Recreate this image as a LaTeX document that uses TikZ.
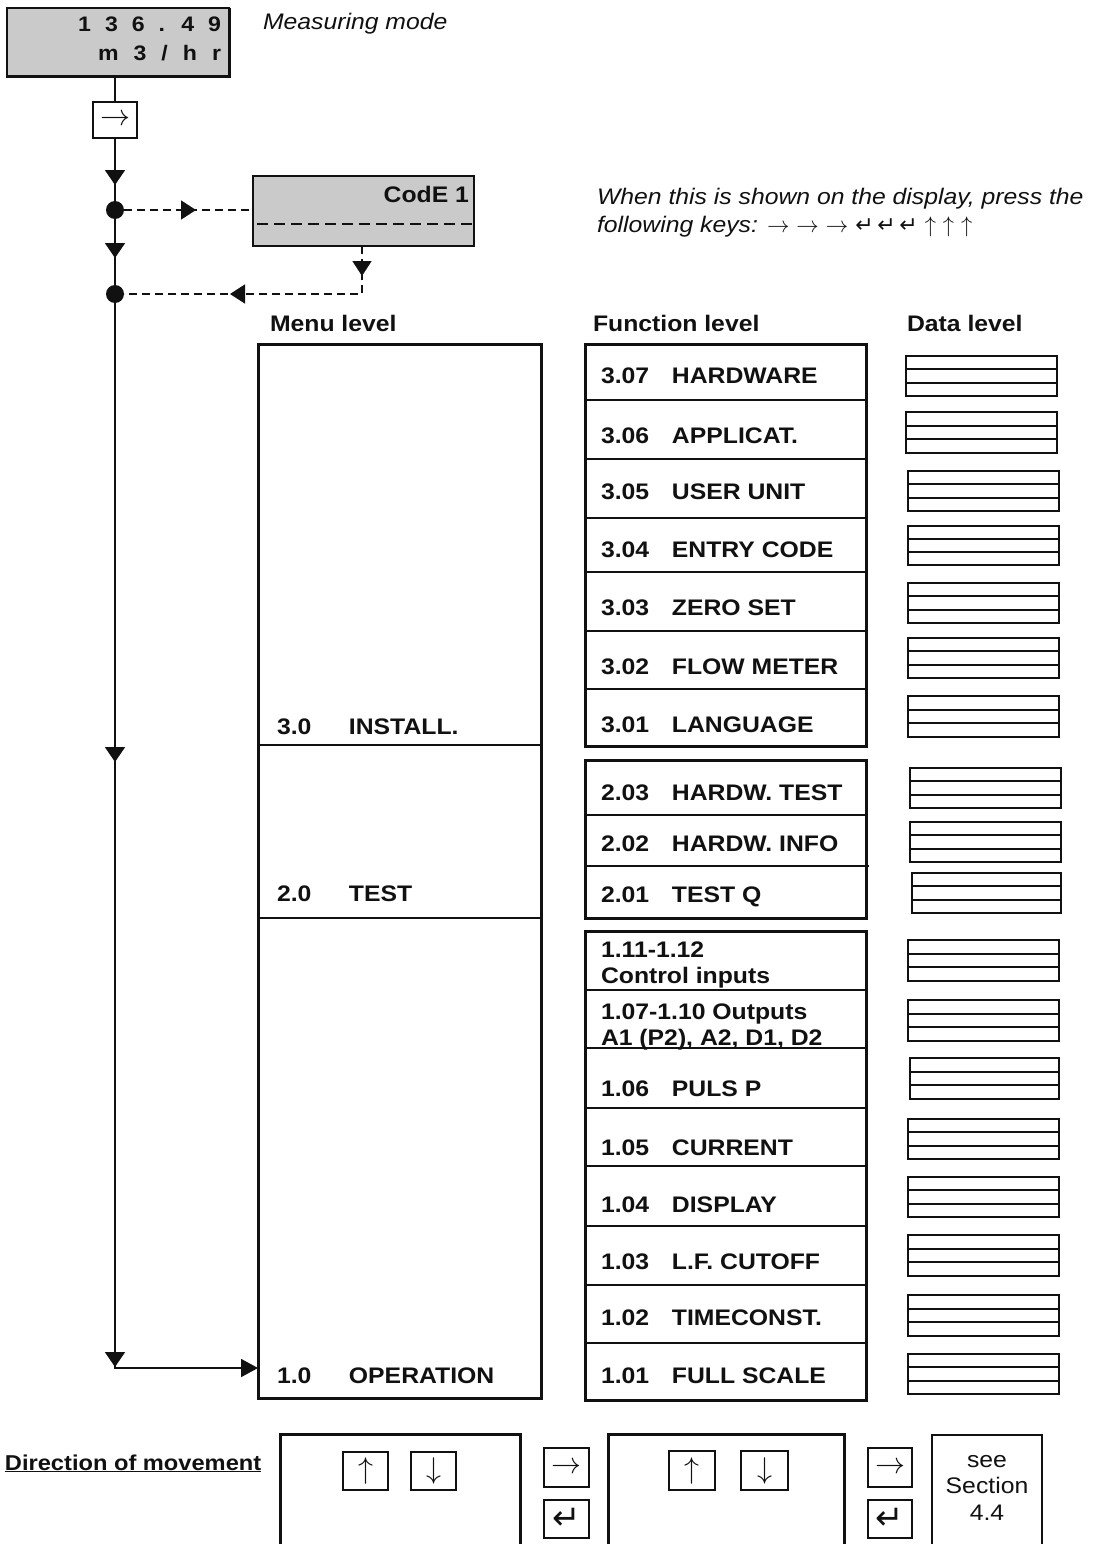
\RequirePackage{fix-cm}
\documentclass[tikz,border=0pt]{standalone}
\usepackage{fontspec}
\setmainfont{Liberation Sans}[FakeStretch=1.1]
\newfontfamily\symf{DejaVu Sans}
\usetikzlibrary{arrows.meta,decorations.markings,calc}
\definecolor{lcd}{HTML}{CACACA}
\definecolor{ink}{HTML}{111111}
\newcommand\rbox[7]{%
  \node[#1, minimum width={(#5-#3)*1pt}, minimum height={(#6-#4)*1pt}] (#2) at ({(#3+#5)/2},{(#4+#6)/2}) {#7};}
\tikzset{
  every node/.style={inner sep=0pt, outer sep=0pt, text=ink},
  heavy/.style={draw=ink, line width=3pt, rectangle},
  lcdbox/.style={draw=ink, fill=lcd, line width=1.5pt, rectangle},
  codebox/.style={draw=ink, fill=lcd, line width=1.6pt, rectangle},
  keyb/.style={draw=ink, line width=1.5pt, rectangle, font=\fontsize{30}{30}\selectfont},
  retkey/.style={draw=ink, line width=1.5pt, rectangle, font=\symf\fontsize{34}{34}\selectfont},
  seebox/.style={draw=ink, line width=1.3pt, rectangle},
  databox/.style={draw=ink, line width=2pt, rectangle},
  dline/.style={draw=ink, line width=1.8pt},
  divline/.style={draw=ink, line width=1.4pt},
  btxt/.style={font=\fontsize{22.5}{26}\selectfont\bfseries, anchor=base west},
  itxt/.style={font=\fontsize{22.5}{26}\selectfont\itshape, anchor=base west},
  rtxt/.style={font=\fontsize{22.5}{26}\selectfont, anchor=base},
  lcdtxt/.style={font=\fontsize{21}{21}\selectfont\bfseries, anchor=base east},
  dotn/.style={circle, fill=ink, minimum size=18pt},
  conn/.style={draw=ink, line width=1.8pt},
  dconn/.style={draw=ink, line width=1.6pt, dash pattern=on 8pt off 5pt},
  ma/.style={postaction={decorate,decoration={markings,mark=at position #1 with {\arrow[ink]{Triangle[length=15pt,width=20pt]}}}}},
  mb/.style={postaction={decorate,decoration={markings,mark=at position #1 with {\arrow[ink]{Triangle[length=15pt,width=19pt]}}}}},
}
\begin{document}
\begin{tikzpicture}[x=1pt,y=-1pt]
\useasboundingbox (0,0) rectangle (1099,1544);
\fill[white] (0,0) rectangle (1099,1544);

% ---------- measuring display ----------
\rbox{lcdbox}{disp}{7}{8}{229}{77}{}
\draw[ink, line width=3pt] (disp.north east) -- (disp.south east) -- (disp.south west);
\node[lcdtxt] (dl1) at (221,32) {\spaceskip=14pt 1 3 6 . 4 9};
\node[lcdtxt] (dl2) at (221,61) {\spaceskip=15pt m 3 / h r};
\node[itxt] (mm) at (263,30) {Measuring mode};

\rbox{keyb}{k0}{93}{102}{137}{138}{$\rightarrow$}
\draw[conn] (k0.north |- disp.south) -- (k0.north);

% ---------- code box ----------
\rbox{codebox}{code}{253}{176}{474}{246}{}
\node[btxt, anchor=base east] (codet) at (469,202) {CodE 1};
\draw[ink, line width=1.4pt, dash pattern=on 11pt off 6pt] (257,224) -- (code.east |- 0,224);

\node[dotn] (dot1) at (115,210) {};
\node[dotn] (dot2) at (115,294) {};
\coordinate (cc) at (362,294);
\coordinate (corner) at (115,1368);

\node[itxt] (note1) at (597,204) {When this is shown on the display, press the};
\node[itxt] (note2) at (597,232) {following keys: $\rightarrow$ $\rightarrow$ $\rightarrow$ {\symf\fontsize{22}{22}\selectfont ↵\,↵\,↵} $\uparrow$ $\uparrow$ $\uparrow$};

% ---------- headers ----------
\node[btxt] (hm) at (270,331) {Menu level};
\node[btxt] (hf) at (593,331) {Function level};
\node[btxt] (hd) at (907,331) {Data level};

% ---------- menu level ----------
\rbox{heavy}{menu}{258}{344}{541}{1398}{}
\draw[divline] (menu.west |- 0,745) -- (menu.east |- 0,745);
\draw[divline] (menu.west |- 0,918) -- (menu.east |- 0,918);
\node[btxt] (m3) at (277,734) {\makebox[72pt][l]{3.0}INSTALL.};
\node[btxt] (m2) at (277,901) {\makebox[72pt][l]{2.0}TEST};
\node[btxt] (m1) at (277,1383) {\makebox[72pt][l]{1.0}OPERATION};

% ---------- connectors ----------
\draw[conn, ma=47pt, ma=120pt, ma=624pt, ma=1229pt, -{Triangle[length=17pt,width=18pt]}]
  (k0.south) -- (corner) -- (corner -| menu.west);
\draw[dconn, mb=72pt] (dot1) -- (dot1 -| code.west);
\draw[dconn, mb=30pt, mb=180pt] (code.south -| cc) -- (cc) -- (dot2);

% ---------- function level ----------
\rbox{heavy}{f3}{585}{344}{866}{746}{}
\rbox{heavy}{f2}{585}{760}{866}{918}{}
\rbox{heavy}{f1}{585}{931}{866}{1400}{}
\foreach \yy in {400,459,518,572,631,689}
  \draw[divline] (f3.west |- 0,\yy) -- (f3.east |- 0,\yy);
\draw[divline] (f2.west |- 0,815) -- (f2.east |- 0,815);
\draw[divline] (f2.west |- 0,866) -- (869,866);
\foreach \yy in {990,1048,1108,1166,1226,1285,1343}
  \draw[divline] (f1.west |- 0,\yy) -- (f1.east |- 0,\yy);

\foreach \yy/\nn/\tt [count=\i] in {375/3.07/HARDWARE, 435/3.06/APPLICAT., 491/3.05/USER UNIT,
   549/3.04/ENTRY CODE, 607/3.03/ZERO SET, 666/3.02/FLOW METER, 724/3.01/LANGUAGE,
   792/2.03/HARDW. TEST, 843/2.02/HARDW. INFO, 894/2.01/TEST Q,
   1088/1.06/PULS P, 1147/1.05/CURRENT, 1204/1.04/DISPLAY, 1261/1.03/L.F. CUTOFF,
   1317/1.02/TIMECONST., 1375/1.01/FULL SCALE}
  \node[btxt] (fr\i) at (601,\yy+8) {\makebox[71pt][l]{\nn}\tt};
\node[btxt] (fa1) at (601,957) {1.11-1.12};
\node[btxt] (fa2) at (601,983) {Control inputs};
\node[btxt] (fb1) at (601,1019) {1.07-1.10 Outputs};
\node[btxt] (fb2) at (601,1045) {A1 (P2), A2, D1, D2};

% ---------- data level ----------
\foreach \xa/\ya/\xb/\yb [count=\i] in {906/356/1057/396, 906/412/1057/453, 908/471/1059/511,
   908/526/1059/565, 908/583/1059/623, 908/638/1059/678, 908/696/1059/737,
   910/768/1061/808, 910/822/1061/862, 912/873/1061/913,
   908/940/1059/981, 908/1000/1059/1041, 910/1058/1059/1099, 908/1119/1059/1159,
   908/1177/1059/1217, 908/1235/1059/1276, 908/1295/1059/1336, 908/1354/1059/1394}
{
  \rbox{databox}{d\i}{\xa}{\ya}{\xb}{\yb}{}
  \draw[dline] ($(d\i.north west)!1/3!(d\i.south west)$) -- ($(d\i.north east)!1/3!(d\i.south east)$);
  \draw[dline] ($(d\i.north west)!2/3!(d\i.south west)$) -- ($(d\i.north east)!2/3!(d\i.south east)$);
}

% ---------- direction of movement ----------
\node[font=\fontsize{21.5}{26}\selectfont\bfseries, anchor=base west] (dir) at (5,1470) {\underline{Direction of movement}};
\rbox{heavy}{ba}{280}{1434}{520}{1562}{}
\rbox{heavy}{bb}{608}{1434}{844}{1562}{}
\rbox{seebox}{bs}{932}{1435}{1042}{1562}{}
\node[rtxt] (s1) at (987,1467) {see};
\node[rtxt] (s2) at (987,1493) {Section};
\node[rtxt] (s3) at (987,1520) {4.4};

\rbox{keyb}{kau}{343}{1452}{388}{1490}{$\uparrow$}
\rbox{keyb}{kad}{411}{1452}{456}{1490}{$\downarrow$}
\rbox{keyb}{kr1}{544}{1448}{589}{1487}{$\rightarrow$}
\rbox{retkey}{ke1}{544}{1500}{589}{1538}{↵}
\rbox{keyb}{kbu}{669}{1451}{715}{1490}{$\uparrow$}
\rbox{keyb}{kbd}{741}{1451}{788}{1490}{$\downarrow$}
\rbox{keyb}{kr2}{868}{1448}{912}{1487}{$\rightarrow$}
\rbox{retkey}{ke2}{868}{1500}{912}{1538}{↵}
\end{tikzpicture}
\end{document}
